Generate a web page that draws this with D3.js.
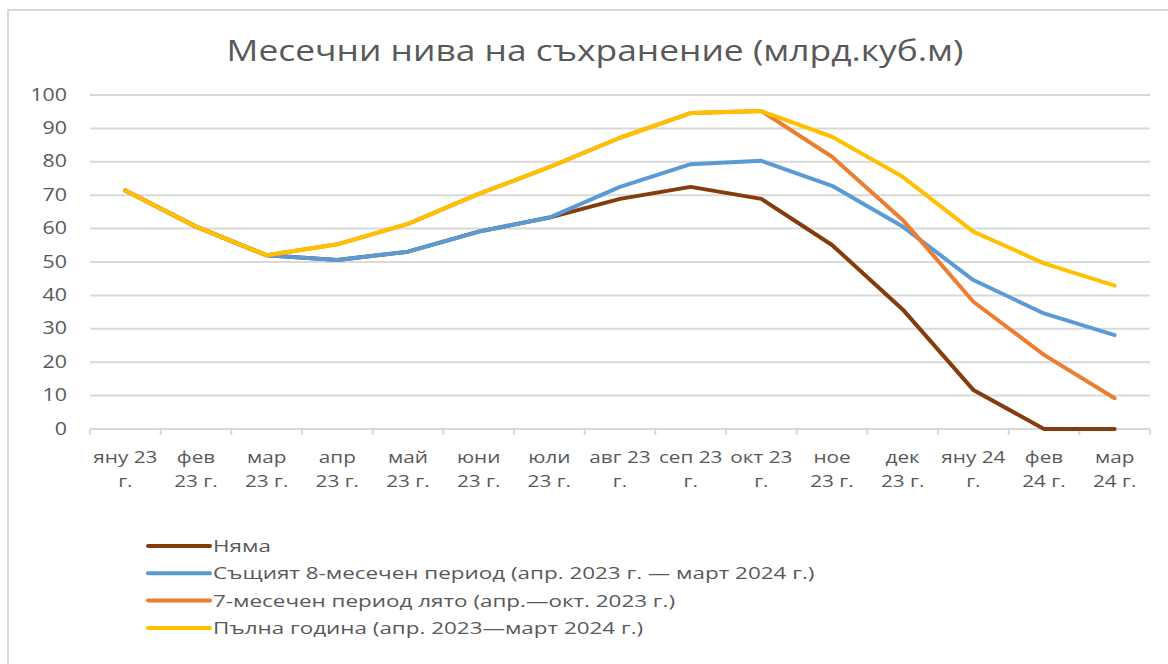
<!DOCTYPE html>
<html>
<head>
<meta charset="utf-8">
<script src="https://cdn.jsdelivr.net/npm/d3@7"></script>
<style>
	body { margin: 0; background: #fff; }
	svg { display: block; font-family: 'Open Sans', 'Noto Sans', sans-serif; }
</style>
</head>
<body>
<svg id="chart" width="1168" height="664"></svg>
<script>
// data
const months = [
	['яну 23', 'г.'], ['фев', '23 г.'], ['мар', '23 г.'], ['апр', '23 г.'],
	['май', '23 г.'], ['юни', '23 г.'], ['юли', '23 г.'], ['авг 23', 'г.'],
	['сеп 23', 'г.'], ['окт 23', 'г.'], ['ное', '23 г.'], ['дек', '23 г.'],
	['яну 24', 'г.'], ['фев', '24 г.'], ['мар', '24 г.']
]
const yTicks = [0, 10, 20, 30, 40, 50, 60, 70, 80, 90, 100]

const none = [71.4, 60.6, 52.0, 50.6, 53.1, 59.1, 63.3, 68.9, 72.5, 68.9, 55.1, 35.8, 11.7, 0, 0]
const same8 = [71.4, 60.6, 52.0, 50.6, 53.1, 59.1, 63.3, 72.5, 79.3, 80.3, 72.8, 60.6, 44.6, 34.6, 28.1]
const summer7 = [71.4, 60.6, 52.0, 55.3, 61.4, 70.4, 78.4, 87.2, 94.6, 95.2, 81.5, 62.6, 38.1, 22.2, 9.2]
const fullYear = [71.4, 60.6, 52.0, 55.3, 61.4, 70.4, 78.4, 87.2, 94.6, 95.2, 87.5, 75.5, 59.1, 49.6, 42.9]

const seriesNames = [
	'Няма',
	'Същият 8-месечен период (апр. 2023 г. — март 2024 г.)',
	'7-месечен период лято (апр.—окт. 2023 г.)',
	'Пълна година (апр. 2023—март 2024 г.)'
]
const seriesColors = ['#843C0C', '#5B9BD5', '#ED7D31', '#FFC000']
const series = [none, same8, summer7, fullYear]

const svg = d3.select('#chart')
const textColor = '#595959'
// the source picture is stretched sideways, so text gets widened a bit
const stretch = 1.22

// outer frame
svg.append('path')
	.attr('d', 'M8,664 V10 H1168')
	.attr('fill', 'none')
	.attr('stroke', '#d9d9d9')
	.attr('stroke-width', 2)

svg.append('text')
	.attr('transform', `translate(595,61) scale(${stretch},1)`)
	.attr('text-anchor', 'middle')
	.attr('fill', textColor)
	.attr('font-size', 29)
	.text('Месечни нива на съхранение (млрд.куб.м)')

const plotLeft = 90, plotRight = 1150, plotTop = 95, plotBottom = 429

const x = d3.scaleBand()
	.domain(d3.range(months.length))
	.range([plotLeft, plotRight])
const y = d3.scaleLinear().domain([0, 100]).range([plotBottom, plotTop])

// gridlines
svg.append('g')
	.selectAll('line')
	.data(yTicks.filter(d => d > 0))
	.enter()
	.append('line')
	.attr('x1', plotLeft)
	.attr('x2', plotRight)
	.attr('y1', d => y(d))
	.attr('y2', d => y(d))
	.attr('stroke', '#d9d9d9')
	.attr('stroke-width', 2)

// y axis labels
const yAxis = svg.append('g')
	.attr('transform', `translate(${plotLeft - 23},0)`)
	.call(d3.axisLeft(y).tickValues(yTicks).tickSize(0).tickPadding(0))
yAxis.attr('font-family', null)
yAxis.select('.domain').remove()
yAxis.selectAll('.tick')
	.attr('transform', d => `translate(0,${y(d)}) scale(1.22,1)`)
yAxis.selectAll('text')
	.attr('fill', textColor)
	.attr('font-size', 17.5)

// x axis
const xAxis = svg.append('g')
	.attr('transform', `translate(0,${plotBottom})`)
	.call(d3.axisBottom(x).tickSize(0).tickFormat(''))
xAxis.select('.domain')
	.attr('stroke', '#d9d9d9')
	.attr('stroke-width', 2)
	.attr('d', `M${plotLeft},0H${plotRight}`)

svg.append('g')
	.selectAll('line')
	.data(d3.range(months.length + 1))
	.enter()
	.append('line')
	.attr('x1', i => plotLeft + i * x.step())
	.attr('x2', i => plotLeft + i * x.step())
	.attr('y1', plotBottom)
	.attr('y2', plotBottom + 6)
	.attr('stroke', '#d9d9d9')
	.attr('stroke-width', 2)

const labels = svg.append('g')
	.selectAll('text')
	.data(months)
	.enter()
	.append('text')
	.attr('text-anchor', 'middle')
	.attr('fill', textColor)
	.attr('font-size', 17)
	.attr('transform', (d, i) => `translate(${x(i) + x.bandwidth() / 2},0) scale(${stretch},1)`)
labels.append('tspan')
	.attr('x', 0)
	.attr('y', 463)
	.text(d => d[0])
labels.append('tspan')
	.attr('x', 0)
	.attr('y', 487)
	.text(d => d[1])

// lines
const line = d3.line()
	.x((d, i) => x(i) + x.bandwidth() / 2)
	.y(d => y(d))

svg.append('g')
	.selectAll('path')
	.data(series)
	.enter()
	.append('path')
	.attr('d', d => line(d))
	.attr('fill', 'none')
	.attr('stroke', (d, i) => seriesColors[i])
	.attr('stroke-width', 4)
	.attr('stroke-linejoin', 'round')
	.attr('stroke-linecap', 'round')

// legend
const legend = svg.append('g')
	.selectAll('g')
	.data(seriesNames)
	.enter()
	.append('g')
	.attr('transform', (d, i) => `translate(148,${546 + i * 27.3})`)
legend.append('line')
	.attr('x1', 0)
	.attr('x2', 62)
	.attr('stroke', (d, i) => seriesColors[i])
	.attr('stroke-width', 4)
	.attr('stroke-linecap', 'round')
legend.append('text')
	.attr('transform', 'translate(65,0) scale(1.32,1)')
	.attr('dy', '0.35em')
	.attr('fill', textColor)
	.attr('font-size', 17)
	.text(d => d)
</script>
</body>
</html>
